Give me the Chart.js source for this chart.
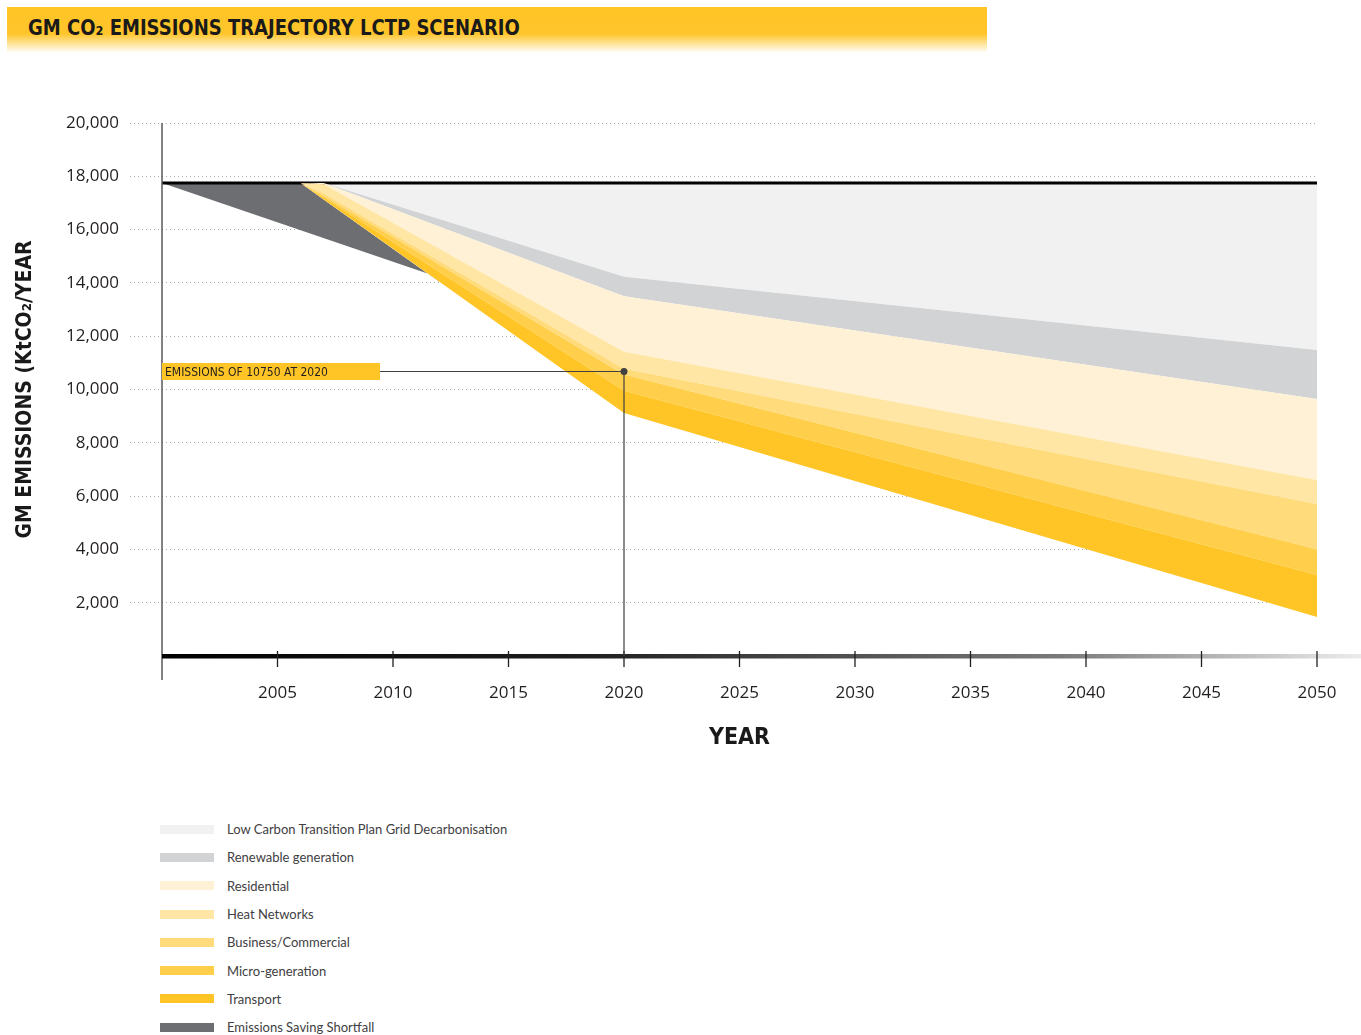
<!DOCTYPE html>
<html>
<head>
<meta charset="utf-8">
<title>GM CO2 emissions trajectory</title>
<script src="https://cdn.jsdelivr.net/npm/chart.js@4.4.1/dist/chart.umd.min.js"></script>
<style>
    html, body { margin: 0; padding: 0; background: #fff; width: 1361px; height: 1035px; overflow: hidden; }
    #wrap { position: absolute; left: 0; top: 0; width: 1361px; height: 800px; }
    .banner {
        position: absolute; left: 7px; top: 7px; width: 980px; height: 46px;
        background: linear-gradient(to bottom, #ffc425 0%, #ffc52b 58%, #ffffff 100%);
    }
    .banner h1 {
        margin: 0; position: absolute; left: 21px; top: 8px;
        font: bold 22px 'DejaVu Sans Condensed', 'DejaVu Sans', sans-serif;
        color: #1a1a1a; white-space: nowrap;
        transform: scaleX(0.91); transform-origin: left center;
    }
    .legend { position: absolute; left: 160px; top: 815px; font: 13px Lato, sans-serif; color: #414042; }
    .legend .row { height: 28.3px; display: flex; align-items: center; }
    .legend .sw { width: 54px; height: 9px; margin-right: 13px; }
</style>
</head>
<body>
<div id="wrap"><canvas id="trajectoryChart"></canvas></div>
<div class="banner"><h1>GM CO₂ EMISSIONS TRAJECTORY LCTP SCENARIO</h1></div>
<div class="legend" id="legend"></div>

<script>
// Remaining emissions (ktCO2/yr) after each measure is applied
const YEARS = [2000, 2006, 2007, 2020, 2050];
const BASELINE = [17750, 17750, 17750, 17750, 17750];
const AFTER_GRID = [17750, 17750, 17750, 14230, 11480];
const AFTER_RENEWABLES = [17750, 17750, 17750, 13500, 9640];
const AFTER_RESIDENTIAL = [17750, 17750, 17700, 11420, 6600];
const AFTER_HEAT_NETWORKS = [17750, 17750, 17350, 10780, 5700];
const AFTER_BUSINESS = [17750, 17750, 17260, 10560, 4010];
const AFTER_MICROGEN = [17750, 17750, 17200, 9950, 3040];
const AFTER_TRANSPORT = [17750, 17750, 17130, 9120, 1460];

// Target line bounding the savings shortfall
const SHORTFALL_YEARS = [2000, 2012];
const SHORTFALL_TARGET = [17750, 14200];

const LEGEND_LABELS = [
    'Low Carbon Transition Plan Grid Decarbonisation',
    'Renewable generation',
    'Residential',
    'Heat Networks',
    'Business/Commercial',
    'Micro-generation',
    'Transport',
    'Emissions Saving Shortfall'
];
const LEGEND_COLORS = ['#f1f1f2', '#d1d3d4', '#fff1d6', '#ffe6a5', '#ffdb7b', '#ffcf4b', '#ffc526', '#6d6e71'];

const ANNOT_YEAR = 2020;
const ANNOT_VALUE = 10750;
const ANNOT_TEXT = 'EMISSIONS OF 10750 AT 2020';

const Y_TITLE = 'GM EMISSIONS (KtCO₂/YEAR';
const X_TITLE = 'YEAR';

const COND = "'DejaVu Sans Condensed', 'DejaVu Sans', sans-serif";

function pts(years, values) {
    return years.map((x, i) => ({ x, y: values[i] }));
}

function band(values, color) {
    return {
        data: pts(YEARS, values),
        fill: '-1',
        backgroundColor: color,
        borderColor: 'transparent',
        borderWidth: 0
    };
}

// legend as html, built from the same arrays
const legendEl = document.getElementById('legend');
LEGEND_LABELS.forEach((label, i) => {
    const row = document.createElement('div');
    row.className = 'row';
    row.innerHTML = '<span class="sw" style="background:' + LEGEND_COLORS[i] + '"></span><span>' + label + '</span>';
    legendEl.appendChild(row);
});

// axis bar, y axis line, tick marks and the 2020 callout
const decorPlugin = {
    id: 'decor',
    afterDatasetsDraw(chart) {
        const { ctx, chartArea, scales: { x, y } } = chart;
        const y0 = y.getPixelForValue(0);
        ctx.save();

        // vertical axis line
        ctx.strokeStyle = '#58595b';
        ctx.lineWidth = 1.5;
        ctx.beginPath();
        ctx.moveTo(chartArea.left, chartArea.top);
        ctx.lineTo(chartArea.left, y0 + 24);
        ctx.stroke();

        // fading horizontal bar
        const grad = ctx.createLinearGradient(chartArea.left, 0, chart.width, 0);
        grad.addColorStop(0, '#000000');
        grad.addColorStop(0.35, '#1e1e1e');
        grad.addColorStop(0.75, '#7a7a7a');
        grad.addColorStop(1, '#ececec');
        ctx.fillStyle = grad;
        ctx.fillRect(chartArea.left, y0 - 2, chart.width - chartArea.left, 4.5);

        ctx.strokeStyle = '#231f20';
        ctx.lineWidth = 1.3;
        x.ticks.forEach(t => {
            if (t.value === x.min) return;
            const px = x.getPixelForValue(t.value);
            ctx.beginPath();
            ctx.moveTo(px, y0 - 5);
            ctx.lineTo(px, y0 + 11);
            ctx.stroke();
        });

        // callout
        const dx = x.getPixelForValue(ANNOT_YEAR);
        const dy = y.getPixelForValue(ANNOT_VALUE) + 2;
        const boxW = 218, boxH = 17;
        ctx.strokeStyle = '#414042';
        ctx.lineWidth = 1.2;
        ctx.beginPath();
        ctx.moveTo(chartArea.left + boxW, dy);
        ctx.lineTo(dx, dy);
        ctx.lineTo(dx, y0);
        ctx.stroke();
        ctx.fillStyle = '#ffc526';
        ctx.fillRect(chartArea.left, dy - boxH / 2, boxW, boxH);
        ctx.fillStyle = '#231f20';
        ctx.font = '12px ' + COND;
        ctx.textBaseline = 'middle';
        ctx.textAlign = 'left';
        ctx.fillText(ANNOT_TEXT, chartArea.left + 3, dy + 1);
        ctx.fillStyle = '#414042';
        ctx.beginPath();
        ctx.arc(dx, dy, 3.5, 0, Math.PI * 2);
        ctx.fill();

        ctx.restore();
    }
};

Chart.defaults.font.family = "'Open Sans', sans-serif";
Chart.defaults.color = '#231f20';

new Chart(document.getElementById('trajectoryChart'), {
    type: 'line',
    data: {
        datasets: [
            { data: pts(YEARS, AFTER_TRANSPORT), fill: false, borderColor: 'transparent', borderWidth: 0 },
            band(AFTER_MICROGEN, LEGEND_COLORS[6]),
            band(AFTER_BUSINESS, LEGEND_COLORS[5]),
            band(AFTER_HEAT_NETWORKS, LEGEND_COLORS[4]),
            band(AFTER_RESIDENTIAL, LEGEND_COLORS[3]),
            band(AFTER_RENEWABLES, LEGEND_COLORS[2]),
            band(AFTER_GRID, LEGEND_COLORS[1]),
            {
                data: pts(YEARS, BASELINE),
                fill: '-1',
                backgroundColor: LEGEND_COLORS[0],
                borderColor: '#000000',
                borderWidth: 3
            },
            {
                data: pts(SHORTFALL_YEARS, SHORTFALL_TARGET),
                fill: { target: 0, above: 'rgba(0,0,0,0)', below: LEGEND_COLORS[7] },
                borderColor: 'transparent',
                borderWidth: 0
            }
        ]
    },
    options: {
        responsive: true,
        maintainAspectRatio: false,
        animation: false,
        layout: { padding: { top: 123, right: 44, left: 0, bottom: 0 } },
        elements: { point: { radius: 0 }, line: { tension: 0 } },
        plugins: { legend: { display: false }, tooltip: { enabled: false } },
        scales: {
            x: {
                type: 'linear',
                min: 2000,
                max: 2050,
                afterFit: s => { s.height = 144; },
                grid: { display: false, drawTicks: true, tickLength: 24 },
                border: { display: false },
                ticks: {
                    stepSize: 5,
                    padding: 3,
                    font: { size: 17 },
                    maxRotation: 0,
                    callback: v => (v === 2000 ? '' : String(v))
                },
                title: {
                    display: true,
                    text: X_TITLE,
                    color: '#1a1a1a',
                    font: { family: COND, size: 23, weight: 'bold' },
                    padding: { bottom: 48 }
                }
            },
            y: {
                min: 0,
                max: 20000,
                afterFit: s => { s.width = 162; },
                border: { display: false, dash: [1, 3] },
                grid: {
                    color: ctx => (ctx.tick && ctx.tick.value === 0 ? 'rgba(0,0,0,0)' : '#a7a9ac'),
                    tickBorderDash: [1, 3],
                    tickLength: 32,
                    lineWidth: 1
                },
                ticks: {
                    stepSize: 2000,
                    padding: 11,
                    font: { size: 17 },
                    callback: v => (v === 0 ? '' : v.toLocaleString('en-US'))
                },
                title: {
                    display: true,
                    text: Y_TITLE,
                    color: '#1a1a1a',
                    font: { family: COND, size: 21, weight: 'bold' },
                    padding: { top: 13 }
                }
            }
        }
    },
    plugins: [decorPlugin]
});
</script>
</body>
</html>
